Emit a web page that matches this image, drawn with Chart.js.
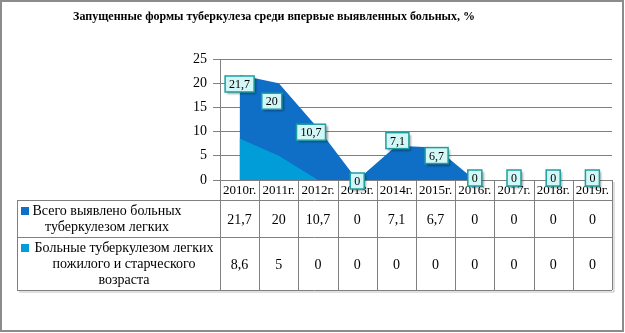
<!DOCTYPE html>
<html>
<head>
<meta charset="utf-8">
<script src="https://cdn.jsdelivr.net/npm/chart.js@4.4.0/dist/chart.umd.min.js"></script>
<style>
    html, body { margin: 0; padding: 0; background: #fff; }
    #wrap { width: 625px; height: 333px; }
</style>
</head>
<body>
<div id="wrap"><canvas id="chart" width="625" height="333"></canvas></div>
<script>
// Chart data
const categories = ['2010г.', '2011г.', '2012г.', '2013г.', '2014г.', '2015г.', '2016г.', '2017г.', '2018г.', '2019г.'];
const totalCases = [21.7, 20, 10.7, 0, 7.1, 6.7, 0, 0, 0, 0];
const elderlyCases = [8.6, 5, 0, 0, 0, 0, 0, 0, 0, 0];
const totalName = ['Всего выявлено больных', 'туберкулезом легких'];
const elderlyName = ['Больные туберкулезом легких', 'пожилого и старческого', 'возраста'];
const titleText = 'Запущенные формы туберкулеза среди впервые выявленных больных, %';

const FONT = '"Liberation Serif", "DejaVu Serif", serif';
const DARK_BLUE = '#0F6FC6';
const LIGHT_BLUE = '#009DD9';
const LINE_GRAY = '#808080';

// small hand nudges for the data labels (like dragged labels in Excel)
const labelNudge = [[0, 9], [-7, 18], [-7, 4], [0, 1], [1, -5], [1, 8], [0, -2], [0, -2], [0, -2], [0, -2]];

function fmt(v) {
    return String(v).replace('.', ',');
}

// Title, data table and data labels
const tablePlugin = {
    id: 'tablePlugin',
    afterDraw(chart) {
        const ctx = chart.ctx;
        const area = chart.chartArea;
        const xs = chart.scales.x;
        const n = categories.length;
        const colW = (area.right - area.left) / n;
        const tableLeft = 17;
        const rowTop = [area.bottom, 200, 237, 290];

        ctx.save();

        // outer frame
        ctx.strokeStyle = '#8c8c8c';
        ctx.lineWidth = 2;
        ctx.strokeRect(1, 1, 622, 330);

        // title
        ctx.fillStyle = '#000';
        ctx.font = 'bold 12px ' + FONT;
        ctx.textAlign = 'center';
        ctx.textBaseline = 'middle';
        ctx.fillText(titleText, 274, 17);

        // soft table shadow
        ctx.fillStyle = 'rgba(0,0,0,0.12)';
        ctx.fillRect(tableLeft + 2, rowTop[3] + 1, area.right - tableLeft, 2);
        ctx.fillRect(area.right + 1, area.bottom + 2, 2, rowTop[3] - area.bottom);

        // table grid
        ctx.strokeStyle = LINE_GRAY;
        ctx.lineWidth = 1;
        ctx.beginPath();
        for (let r = 1; r < rowTop.length; r++) {
            const y = Math.round(rowTop[r]) + 0.5;
            ctx.moveTo(tableLeft, y);
            ctx.lineTo(area.right, y);
        }
        ctx.moveTo(area.right + 0.5, area.bottom);
        ctx.lineTo(area.right + 0.5, rowTop[3]);
        ctx.moveTo(tableLeft + 0.5, rowTop[1]);
        ctx.lineTo(tableLeft + 0.5, rowTop[3]);
        for (let i = 0; i < n; i++) {
            const x = Math.round(area.left + i * colW) + 0.5;
            ctx.moveTo(x, area.bottom);
            ctx.lineTo(x, rowTop[3]);
        }
        ctx.stroke();

        // header labels and values
        ctx.fillStyle = '#000';
        ctx.textAlign = 'center';
        ctx.textBaseline = 'middle';
        categories.forEach((c, i) => {
            const cx = xs.getPixelForValue(i);
            ctx.font = '13px ' + FONT;
            ctx.fillText(c, cx, 191);
            ctx.font = '14px ' + FONT;
            ctx.fillText(fmt(totalCases[i]), cx, 220);
            ctx.fillText(fmt(elderlyCases[i]), cx, 265);
        });

        // row headers with legend keys
        ctx.font = '14px ' + FONT;
        ctx.fillStyle = DARK_BLUE;
        ctx.fillRect(21, 207, 8, 8);
        ctx.fillStyle = LIGHT_BLUE;
        ctx.fillRect(21, 244, 8, 8);
        ctx.fillStyle = '#000';
        totalName.forEach((line, k) => ctx.fillText(line, 107, 211 + k * 16));
        elderlyName.forEach((line, k) => ctx.fillText(line, 124, 248 + k * 16));

        // data labels for the total series
        const meta = chart.getDatasetMeta(1);
        ctx.font = '12px ' + FONT;
        meta.data.forEach((pt, i) => {
            const txt = fmt(totalCases[i]);
            const w = ctx.measureText(txt).width + 8;
            const h = 16;
            const cx = pt.x + labelNudge[i][0];
            const cy = pt.y + labelNudge[i][1];
            ctx.save();
            ctx.shadowColor = 'rgba(0,0,0,0.35)';
            ctx.shadowOffsetX = 2;
            ctx.shadowOffsetY = 2;
            ctx.shadowBlur = 2;
            ctx.fillStyle = '#D3F6F6';
            ctx.fillRect(cx - w / 2, cy - h / 2, w, h);
            ctx.restore();
            ctx.strokeStyle = '#1E9E9E';
            ctx.lineWidth = 1.5;
            ctx.strokeRect(cx - w / 2, cy - h / 2, w, h);
            ctx.fillStyle = '#000';
            ctx.fillText(txt, cx, cy + 1);
        });

        ctx.restore();
    }
};

const chart = new Chart(document.getElementById('chart'), {
    type: 'line',
    data: {
        labels: categories,
        datasets: [
            {
                label: elderlyName.join(' '),
                data: elderlyCases,
                borderWidth: 0,
                borderColor: LIGHT_BLUE,
                backgroundColor: LIGHT_BLUE,
                fill: 'origin',
                pointRadius: 0,
                tension: 0,
                order: 0
            },
            {
                label: totalName.join(' '),
                data: totalCases,
                borderWidth: 0,
                borderColor: DARK_BLUE,
                backgroundColor: DARK_BLUE,
                fill: 'origin',
                pointRadius: 0,
                tension: 0,
                order: 1
            }
        ]
    },
    options: {
        responsive: false,
        animation: false,
        layout: {
            padding: { left: 190, top: 59, right: 13, bottom: 153 }
        },
        plugins: {
            legend: { display: false },
            tooltip: { enabled: false },
            title: { display: false }
        },
        scales: {
            x: {
                display: false,
                offset: true
            },
            y: {
                min: 0,
                max: 25,
                afterFit: (scale) => { scale.width = 30; },
                ticks: {
                    stepSize: 5,
                    padding: 6,
                    color: '#000',
                    font: { family: FONT, size: 14 },
                    callback: (v) => fmt(v)
                },
                grid: {
                    color: LINE_GRAY,
                    tickLength: 7
                },
                border: { color: LINE_GRAY }
            }
        }
    },
    plugins: [tablePlugin]
});
</script>
</body>
</html>
